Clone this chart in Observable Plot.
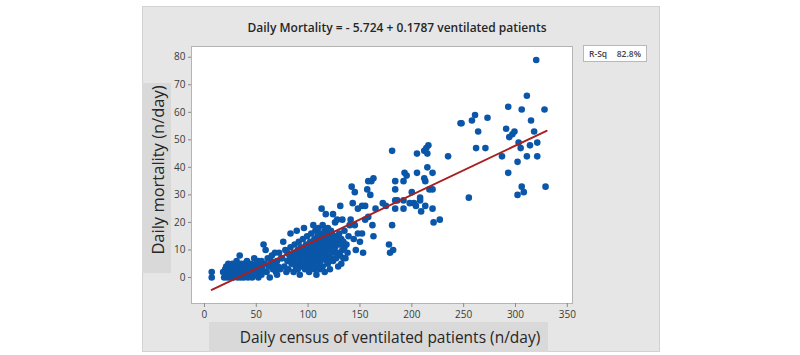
<!DOCTYPE html>
<html>
<head>
<meta charset="utf-8">
<script src="https://cdn.jsdelivr.net/npm/d3@7"></script>
<script src="https://cdn.jsdelivr.net/npm/@observablehq/plot@0.6"></script>
<style>
  body { margin: 0; background: #fff; font-family: "Open Sans", sans-serif; }
  #wrap { position: relative; width: 800px; height: 355px; overflow: hidden; }
  .panel { position: absolute; left: 142px; top: 6px; width: 518px; height: 346px;
           background: #e6e6e6; border: 1px solid #d2d2d2; box-sizing: border-box; }
  .ybox { position: absolute; left: 142px; top: 83px; width: 29px; height: 190px; background: #d9d9d9; }
  .xbox { position: absolute; left: 209px; top: 322px; width: 339px; height: 30px; background: #d9d9d9; }
  #chart { position: absolute; left: 0; top: 0; }
  .title { position: absolute; left: 397px; top: 19px; transform: translateX(-50%);
           font-size: 12px; font-weight: 600; color: #262626; white-space: nowrap; }
  .ylab { position: absolute; left: 157px; top: 170px; transform: translate(-50%, -50%) rotate(-90deg);
          font-size: 16.5px; color: #262626; white-space: nowrap; }
  .xlab { position: absolute; left: 390px; top: 337px; transform: translate(-50%, -50%);
          font-size: 15.5px; color: #262626; white-space: nowrap; }
  .rsq { position: absolute; left: 583px; top: 45px; width: 64px; height: 17px; box-sizing: border-box;
         background: #fff; border: 1px solid #b8b8b8; font-size: 8.5px; font-weight: 600; color: #444;
         display: flex; justify-content: space-between; align-items: center; padding: 0 5px; }
</style>
</head>
<body>
<div id="wrap">
  <div class="panel"></div>
  <div class="ybox"></div>
  <div class="xbox"></div>
  <div id="chart"></div>
  <div class="title">Daily Mortality = - 5.724 + 0.1787 ventilated patients</div>
  <div class="ylab">Daily mortality (n/day)</div>
  <div class="xlab">Daily census of ventilated patients (n/day)</div>
  <div class="rsq"><span>R-Sq</span><span>82.8%</span></div>
</div>
<script>
// Daily census of ventilated patients and the deaths recorded that day
const census = [
  7, 7, 18, 19, 20, 20, 21, 22, 22, 23, 24, 24, 25, 25, 26, 27, 27, 28, 28, 29,
  30, 30, 31, 31, 32, 32, 33, 33, 34, 34, 35, 35, 36, 36, 37, 37, 38, 38, 39, 40,
  40, 41, 41, 42, 42, 43, 43, 44, 45, 45, 46, 46, 47, 47, 48, 48, 49, 50, 50, 51,
  52, 52, 53, 54, 55, 55, 56, 57, 58, 59, 60, 61, 62, 63, 64, 65, 66, 67, 68, 69,
  70, 70, 71, 72, 73, 74,
  75, 76, 77, 78, 79, 80, 80, 81, 82, 83, 83, 84, 85, 86, 86, 87, 87, 88, 89, 89,
  90, 90, 91, 91, 92, 92, 93, 93, 94, 94, 95, 95, 96, 96, 97, 97, 98, 98, 99, 99,
  100, 100,
  101, 101, 102, 102, 103, 103, 104, 104, 105, 105, 105, 106, 106, 107, 107, 107, 108, 108, 108, 109,
  109, 109, 110, 110, 110, 111, 111, 111, 112, 112, 112, 113, 113, 113, 114, 114, 114, 115, 115, 115,
  116, 116, 116, 117, 117, 117, 118, 118, 118, 119, 119, 119, 120, 120, 120, 121, 121, 121, 122, 122,
  122, 123, 123, 124, 124, 124, 125, 125, 126, 126, 127, 127, 128, 128, 129, 129, 130, 130, 131, 131,
  132, 132, 133, 133, 134, 134, 135, 135,
  136, 137, 138, 139, 140, 141, 142, 143, 144, 145, 145, 146, 148, 148, 150, 152, 152, 153, 155, 155,
  157, 158, 158, 160,
  161, 162, 163, 163, 165, 172, 175, 178, 179, 181, 181, 182, 184, 184, 184, 184, 186, 192, 192, 192,
  193, 195, 198, 200, 202, 204, 205, 205, 208, 208, 209, 212, 212, 213, 213, 214, 215, 215, 216, 217,
  220, 220, 220, 221, 227, 235,
  247, 248, 255, 258, 261, 262, 264, 271, 273, 287, 291, 293, 293, 294, 297, 299, 302, 302, 303, 305,
  306, 306, 308, 311, 311, 314, 315, 318, 320, 321, 321, 328, 329
];
const deaths = [
  0, 2, 2, 0, 3, 1, 4, 0, 2, 5, 1, 3, 0, 4, 2, 1, 5, 3, 0, 2,
  4, 1, 6, 3, 0, 2, 4, 1, 3, 8, 0, 5, 2, 4, 1, 3, 5, 0, 2, 4,
  1, 3, 6, 0, 2, 4, 1, 3, 5, 2, 0, 4, 1, 3, 7, 2, 4, 1, 5, 3,
  0, 6, 2, 4, 6, 1, 3, 12, 5, 10, 2, 7, 4, 0, 6, 8, 3, 5, 9, 2,
  1, 6, 4, 9, 3, 7,
  7, 13, 4, 10, 2, 6, 9, 3, 8, 16, 11, 5, 7, 9, 2, 12, 6, 4, 17, 8,
  10, 3, 5, 13, 7, 1, 9, 11, 6, 4, 8, 14, 18, 10, 3, 7, 12, 5, 9, 15,
  6, 11,
  8, 2, 13, 4, 10, 16, 7, 12, 19, 5, 9, 14, 3, 11, 8, 17, 6, 13, 1, 10,
  15, 4, 12, 7, 18, 9, 14, 3, 11, 16, 6, 25, 13, 8, 19, 10, 4, 15, 12, 7,
  17, 9, 2, 23, 14, 11, 6, 16, 13, 10, 18, 5, 12, 15, 8, 14, 3, 11, 17, 7,
  13, 10, 16, 23, 12, 6, 14, 9, 20, 11, 15, 7, 21, 13, 4, 9, 12, 16, 8, 26,
  14, 5, 21, 10, 13, 7, 11, 17,
  7, 12, 9, 15, 19, 21, 33, 27, 14, 31, 19, 10, 25, 16, 13, 16, 26, 9, 26, 21,
  32, 35, 22, 30,
  35, 19, 36, 15, 25, 27, 26, 12, 9, 46, 19, 10, 35, 28, 32, 25, 28, 35, 28, 25,
  38, 37, 27, 31, 27, 26, 45, 38, 29, 28, 24, 46, 36, 35, 26, 47, 45, 40, 48, 32,
  38, 32, 25, 20, 21, 44,
  56, 56, 29, 57, 59, 47, 53, 47, 58, 44, 54, 38, 62, 51, 52, 53, 42, 30, 49, 47,
  61, 33, 31, 66, 44, 48, 57, 53, 79, 44, 49, 61, 33
];

// Fitted regression line and the census range it spans
const intercept = -5.724;
const slope = 0.1787;
const fitRange = [7, 330];

const xTicks = [0, 50, 100, 150, 200, 250, 300, 350];
const yTicks = [0, 10, 20, 30, 40, 50, 60, 70, 80];

const days = census.map((c, i) => ({census: c, deaths: deaths[i]}));
const fitLine = fitRange.map(c => ({census: c, deaths: intercept + slope * c}));

const chart = Plot.plot({
  width: 800,
  height: 355,
  marginLeft: 191,
  marginRight: 228,
  marginTop: 46,
  marginBottom: 52,
  style: {background: "transparent", fontFamily: "Open Sans, sans-serif", fontSize: "10px"},
  x: {domain: [-12.5, 355]},
  y: {domain: [-9.45, 83.9]},
  marks: [
    Plot.frame({fill: "white", stroke: "#b4b4b4"}),
    Plot.axisX(xTicks, {tickSize: 4, tickPadding: 3, stroke: "#8a8a8a", fill: "#3a3a3a", label: null}),
    Plot.axisY(yTicks, {tickSize: 3, tickPadding: 3, stroke: "#8a8a8a", fill: "#3a3a3a", label: null}),
    Plot.dot(days, {x: "census", y: "deaths", r: 3.3, fill: "#0a56a8"}),
    Plot.line(fitLine, {x: "census", y: "deaths", stroke: "#a8201f", strokeWidth: 2})
  ]
});
document.getElementById("chart").append(chart);
</script>
</body>
</html>
